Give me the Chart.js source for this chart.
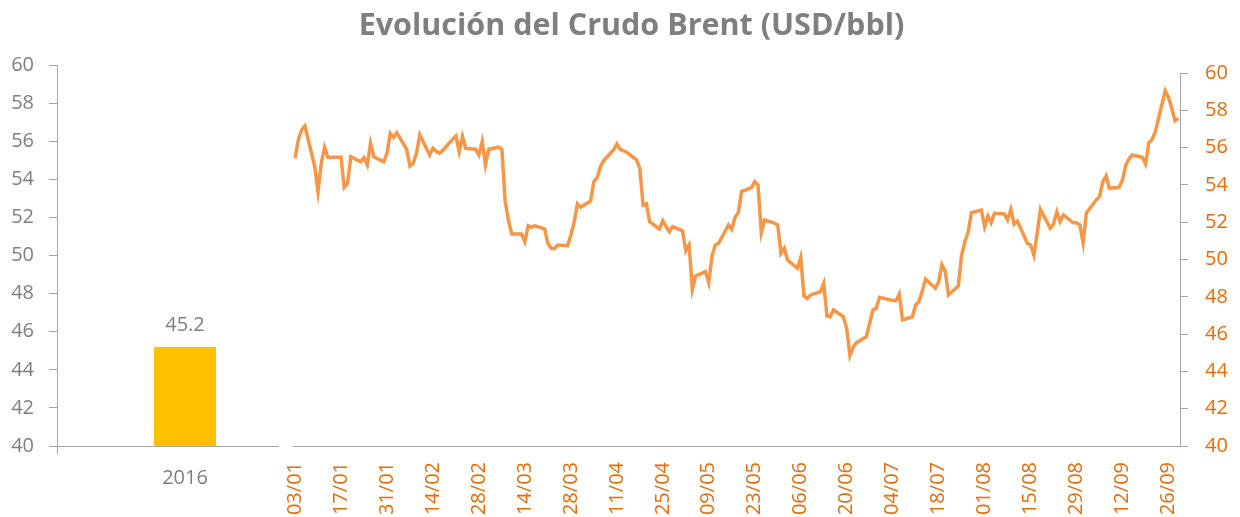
<!DOCTYPE html>
<html>
<head>
<meta charset="utf-8">
<script src="https://cdn.jsdelivr.net/npm/chart.js@4.4.1/dist/chart.umd.min.js"></script>
<style>
  body { margin: 0; width: 1240px; height: 517px; overflow: hidden; position: relative; background: #fff; }
  #title { position: absolute; left: 0; top: 0; width: 1263px; text-align: center; z-index: 3;
           font: bold 30.5px "Open Sans", sans-serif; color: #7f7f7f; line-height: 46px; }
  #barChart { position: absolute; left: 0; top: 0; }
  #lineChart { position: absolute; left: 279px; top: 0; background: #fff; z-index: 2; }
</style>
</head>
<body>
<div id="title">Evolución del Crudo Brent (USD/bbl)</div>
<canvas id="barChart" width="330" height="517"></canvas>
<canvas id="lineChart" width="961" height="517"></canvas>
<script>
// yearly average (left panel)
const barCategories = ['2016'];
const barValues = [45.2];

// daily Brent close 2017, one row per week: Tue Wed Thu Fri Mon
const brentValues = [
  55.43, 56.41, 56.94, 57.16, 55.0,
  53.64, 55.16, 56.02, 55.48, 55.48,
  55.48, 53.87, 54.08, 55.51, 55.24,
  55.46, 55.07, 56.23, 55.51, 55.24,
  55.69, 56.76, 56.55, 56.80, 55.9,
  55.01, 55.16, 55.7, 56.68, 55.60,
  55.96, 55.8, 55.69, 55.85, 56.45,
  56.62, 55.78, 56.59, 55.96, 55.91,
  55.60, 56.32, 55.07, 55.91, 56.02,
  55.91, 53.10, 52.1, 51.37, 51.37,
  50.96, 51.81, 51.73, 51.80, 51.64,
  50.87, 50.60, 50.58, 50.78, 50.74,
  51.3, 52.0, 52.98, 52.80, 53.14,
  54.17, 54.39, 54.98, 55.30, 55.87,
  56.19, 55.91, 55.83, 55.75, 55.34,
  54.89, 52.92, 52.98, 52.03, 51.64,
  52.08, 51.78, 51.49, 51.76, 51.54,
  50.47, 50.78, 48.40, 49.12, 49.35,
  48.76, 50.19, 50.78, 50.87, 51.85,
  51.62, 52.26, 52.51, 53.64, 53.85,
  54.17, 53.99, 51.44, 52.12, 51.95,
  51.85, 50.33, 50.60, 49.97, 49.53,
  50.12, 48.04, 47.90, 48.1, 48.27,
  48.72, 46.97, 46.93, 47.3, 46.93,
  46.3, 44.85, 45.3, 45.54, 45.86,
  46.58, 47.29, 47.38, 47.97, 47.85,
  47.8, 47.79, 48.15, 46.76, 46.93,
  47.56, 47.74, 48.3, 48.94, 48.46,
  48.81, 49.71, 49.35, 48.10, 48.58,
  50.24, 50.95, 51.49, 52.51, 52.65,
  51.76, 52.33, 51.97, 52.48, 52.44,
  52.12, 52.69, 51.90, 52.06, 50.87,
  50.78, 50.24, 51.4, 52.69, 51.67,
  51.90, 52.56, 52.03, 52.39, 51.97,
  51.97, 51.85, 50.90, 52.5, 53.2,
  53.37, 54.17, 54.48, 53.82, 53.87,
  54.26, 55.07, 55.4, 55.60, 55.48,
  55.12, 56.26, 56.44, 56.85, 59.05,
  58.7, 58.1, 57.44, 57.57
];

// date axis labels, every 14 days starting 03/01/2017
const dateTickLabels = ['03/01', '17/01', '31/01', '14/02', '28/02', '14/03', '28/03', '11/04', '25/04', '09/05',
  '23/05', '06/06', '20/06', '04/07', '18/07', '01/08', '15/08', '29/08', '12/09', '26/09'];

// trading days = weekdays, counted in days from 03/01 (a Tuesday), skip Sat/Sun
const tradingDays = [];
for (let d = 0; tradingDays.length < brentValues.length; d++) {
  if (d % 7 !== 4 && d % 7 !== 5) tradingDays.push(d);
}
const brentPoints = brentValues.map((v, i) => ({ x: tradingDays[i], y: v }));

const textGrey = '#7f7f7f';
const axisGrey = '#a6a6a6';
const orangeText = '#e46c0a';
const numFont = { family: '"Open Sans", sans-serif', size: 20 };

// draws "45.2" on top of the bar
const barValueLabels = {
  id: 'barValueLabels',
  afterDatasetsDraw(chart) {
    const ctx = chart.ctx;
    chart.getDatasetMeta(0).data.forEach((bar, i) => {
      ctx.save();
      ctx.fillStyle = textGrey;
      ctx.font = '20px "Open Sans", sans-serif';
      ctx.textAlign = 'center';
      ctx.textBaseline = 'bottom';
      ctx.fillText(barValues[i].toFixed(1), bar.x, bar.y - 12);
      ctx.restore();
    });
  }
};

new Chart(document.getElementById('barChart'), {
  type: 'bar',
  data: {
    labels: barCategories,
    datasets: [{ data: barValues, backgroundColor: '#ffc000', categoryPercentage: 1, barPercentage: 0.242 }]
  },
  options: {
    responsive: false,
    animation: false,
    layout: { padding: { top: 65, right: 17, left: 0, bottom: 0 } },
    plugins: { legend: { display: false }, tooltip: { enabled: false } },
    scales: {
      x: {
        grid: { drawOnChartArea: false, color: axisGrey, tickLength: 8 },
        border: { color: axisGrey },
        ticks: { color: textGrey, font: numFont, padding: 12 },
        afterFit: s => { s.height = 71; }
      },
      y: {
        min: 40, max: 60,
        ticks: { stepSize: 2, color: textGrey, font: numFont, padding: 15 },
        grid: { drawOnChartArea: false, color: axisGrey, tickLength: 8 },
        border: { color: axisGrey },
        afterFit: s => { s.width = 57; }
      }
    }
  },
  plugins: [barValueLabels]
});

new Chart(document.getElementById('lineChart'), {
  type: 'line',
  data: {
    datasets: [{ data: brentPoints, borderColor: '#f79646', borderWidth: 3.5, pointRadius: 0, fill: false, tension: 0 }]
  },
  options: {
    responsive: false,
    animation: false,
    layout: { padding: { top: 73, left: 11, right: 0, bottom: 0 } },
    plugins: { legend: { display: false }, tooltip: { enabled: false } },
    scales: {
      x: {
        type: 'linear',
        min: -0.5, max: 269.5,
        afterBuildTicks: s => { s.ticks = dateTickLabels.map((t, i) => ({ value: i * 14 })); },
        ticks: {
          autoSkip: false, minRotation: 90, maxRotation: 90,
          color: orangeText, font: numFont, padding: 16,
          callback: (v, i) => dateTickLabels[i]
        },
        grid: { drawOnChartArea: false, drawTicks: false },
        border: { color: axisGrey },
        afterFit: s => { s.height = 71; }
      },
      y: {
        position: 'right',
        min: 40, max: 60,
        ticks: { stepSize: 2, color: orangeText, font: numFont, padding: 17 },
        grid: { drawOnChartArea: false, color: axisGrey, tickLength: 8 },
        border: { color: axisGrey },
        afterFit: s => { s.width = 60; }
      }
    }
  }
});
</script>
</body>
</html>
